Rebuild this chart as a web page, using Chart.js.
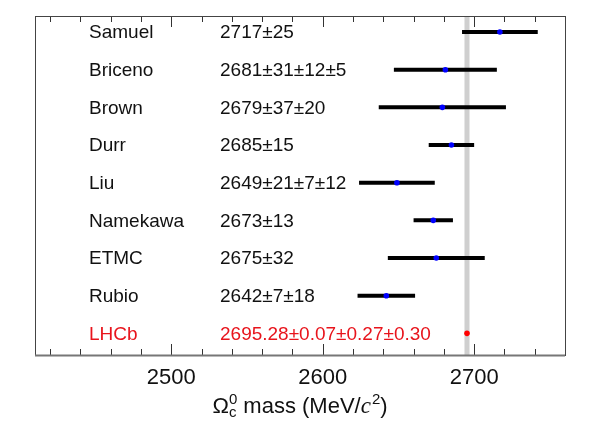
<!DOCTYPE html>
<html>
<head>
<meta charset="utf-8">
<script src="https://cdn.jsdelivr.net/npm/chart.js@4/dist/chart.umd.min.js"></script>
<style>
  html, body { margin: 0; padding: 0; background: #fff; }
  #wrap { width: 600px; height: 431px; }
</style>
</head>
<body>
<div id="wrap"><canvas id="omega-mass-chart"></canvas></div>
<script>
// measurements, top to bottom
var names = ['Samuel', 'Briceno', 'Brown', 'Durr', 'Liu', 'Namekawa', 'ETMC', 'Rubio', 'LHCb'];
var valueLabels = ['2717\u00b125', '2681\u00b131\u00b112\u00b15', '2679\u00b137\u00b120', '2685\u00b115',
                   '2649\u00b121\u00b17\u00b112', '2673\u00b113', '2675\u00b132', '2642\u00b17\u00b118',
                   '2695.28\u00b10.07\u00b10.27\u00b10.30'];
var masses = [2717, 2681, 2679, 2685, 2649, 2673, 2675, 2642, 2695.28];
// total uncertainty (half width of the bars, as drawn)
var errors = [25, 34, 42, 15, 25, 13, 32, 19, 0.4];
var massMin = 2410, massMax = 2760;
var minorStep = 20, majorStep = 100;

var red = '#e8141c';
var textFont = '19px "Liberation Sans", Arial, sans-serif';

var rows = names.map(function (n, i) { return i; });

// error bars: one line with gaps between rows
var barPoints = [];
rows.forEach(function (i) {
    barPoints.push({x: masses[i] - errors[i], y: i});
    barPoints.push({x: masses[i] + errors[i], y: i});
    barPoints.push({x: masses[i], y: null});
});

var lhcb = masses[masses.length - 1];

var framePlugin = {
    id: 'frame',
    afterDraw: function (chart) {
	var ctx = chart.ctx, a = chart.chartArea;
	var xs = chart.scales.x, ys = chart.scales.y;
	ctx.save();
	// labels inside the plot
	ctx.font = textFont;
	ctx.textBaseline = 'middle';
	ctx.textAlign = 'left';
	rows.forEach(function (i) {
	    var y = ys.getPixelForValue(i);
	    ctx.fillStyle = i === names.length - 1 ? red : '#111';
	    ctx.fillText(names[i], 89, y + 1);
	    ctx.fillText(valueLabels[i], 220, y + 1);
	});
	// inward ticks top and bottom
	ctx.strokeStyle = '#333';
	ctx.lineWidth = 1;
	ctx.beginPath();
	for (var v = Math.ceil(massMin / minorStep) * minorStep; v < massMax; v += minorStep) {
	    var tx = Math.round(xs.getPixelForValue(v)) + 0.5;
	    var len = v % majorStep === 0 ? 11 : 6;
	    ctx.moveTo(tx, a.bottom); ctx.lineTo(tx, a.bottom - len);
	    ctx.moveTo(tx, a.top); ctx.lineTo(tx, a.top + len);
	}
	ctx.stroke();
	// frame
	ctx.strokeStyle = '#444';
	ctx.strokeRect(Math.round(a.left) + 0.5, Math.round(a.top) + 0.5,
		       Math.round(a.right - a.left), Math.round(a.bottom - a.top));
	ctx.strokeStyle = '#777';
	ctx.lineWidth = 2;
	ctx.beginPath();
	ctx.moveTo(a.left, a.bottom + 0.5); ctx.lineTo(a.right, a.bottom + 0.5);
	ctx.stroke();

	// axis title: Omega_c^0 mass (MeV/c^2)
	var big = '22px "Liberation Sans", Arial, sans-serif';
	var small = '15px "Liberation Sans", Arial, sans-serif';
	var ital = 'italic 23px "Liberation Serif", "Times New Roman", serif';
	var base = 413;
	ctx.fillStyle = '#111';
	ctx.textBaseline = 'alphabetic';
	ctx.font = big; var wOm = ctx.measureText('\u03a9').width;
	ctx.font = small; var wSup = Math.max(ctx.measureText('0').width, ctx.measureText('c').width);
	ctx.font = big; var wMid = ctx.measureText(' mass (MeV/').width;
	ctx.font = ital; var wC = ctx.measureText('c').width;
	ctx.font = small; var w2 = ctx.measureText('2').width;
	ctx.font = big; var wEnd = ctx.measureText(')').width;
	var total = wOm + wSup + wMid + wC + 1 + w2 + wEnd;
	var x = (a.left + a.right) / 2 - total / 2;
	ctx.font = big; ctx.fillText('\u03a9', x, base); x += wOm;
	ctx.font = small; ctx.fillText('0', x, base - 9); ctx.fillText('c', x, base + 4); x += wSup;
	ctx.font = big; ctx.fillText(' mass (MeV/', x, base); x += wMid;
	ctx.font = ital; ctx.fillText('c', x, base); x += wC + 1;
	ctx.font = small; ctx.fillText('2', x, base - 9); x += w2;
	ctx.font = big; ctx.fillText(')', x, base);
	ctx.restore();
    }
};

var chart = new Chart(document.getElementById('omega-mass-chart'), {
    type: 'scatter',
    data: {
	datasets: [
	    {
		type: 'line',
		data: [{x: lhcb, y: -1}, {x: lhcb, y: 10}],
		borderColor: '#cfcfcf',
		borderWidth: 5,
		pointRadius: 0,
		order: 3
	    },
	    {
		type: 'line',
		data: barPoints,
		borderColor: '#000',
		borderWidth: 4,
		borderCapStyle: 'butt',
		spanGaps: false,
		pointRadius: 0,
		order: 2
	    },
	    {
		data: rows.map(function (i) { return {x: masses[i], y: i}; }),
		backgroundColor: rows.map(function (i) { return i === names.length - 1 ? '#ff0000' : '#0000ff'; }),
		pointRadius: 2.8,
		borderWidth: 0,
		order: 1
	    }
	]
    },
    options: {
	responsive: true,
	maintainAspectRatio: false,
	animation: false,
	layout: { padding: { left: 35, right: 35, top: 16, bottom: 0 } },
	plugins: { legend: { display: false }, tooltip: { enabled: false } },
	scales: {
	    x: {
		type: 'linear',
		min: massMin,
		max: massMax,
		grid: { display: false, drawTicks: false },
		border: { display: false },
		ticks: {
		    stepSize: minorStep,
		    autoSkip: false,
		    maxRotation: 0,
		    padding: 10,
		    color: '#111',
		    font: { family: '"Liberation Sans", Arial, sans-serif', size: 22 },
		    callback: function (v) { return v % majorStep === 0 ? String(v) : ''; }
		},
		afterFit: function (s) { s.height = 76; }
	    },
	    y: {
		type: 'linear',
		min: -0.425,
		max: 8.575,
		reverse: true,
		display: false
	    }
	}
    },
    plugins: [framePlugin]
});
</script>
</body>
</html>
